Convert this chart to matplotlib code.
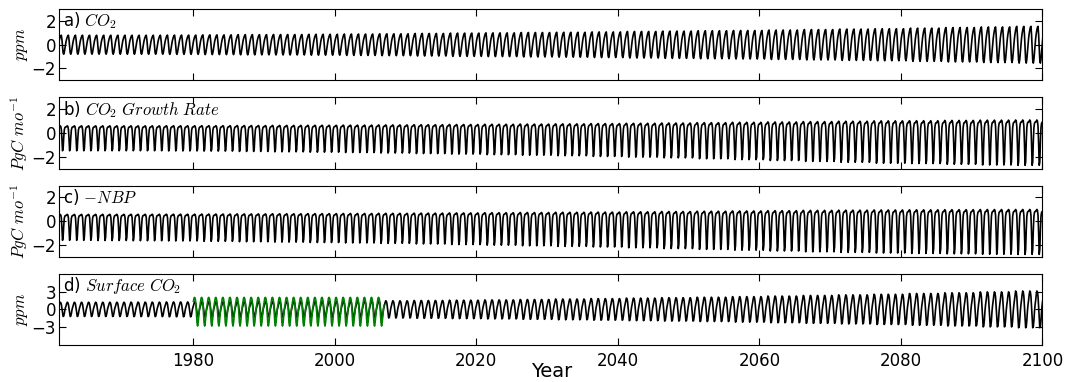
import numpy as np
import matplotlib
matplotlib.use("Agg")
import matplotlib.pyplot as plt

plt.rcParams["mathtext.fontset"] = "cm"

# monthly seasonal shapes (Jan..Dec, normalised)
co2_shape = [0.35, 0.6, 0.8, 0.95, 1.0, 0.55, -0.2, -0.85, -1.0, -0.8, -0.4, 0.05]
gr_shape = [0.5, 0.55, 0.6, 0.55, 0.3, -0.5, -1.5, -1.35, -0.4, 0.25, 0.45, 0.5]
nbp_shape = [0.5, 0.55, 0.6, 0.55, 0.3, -0.6, -1.7, -1.45, -0.45, 0.25, 0.45, 0.5]
surf_shape = [0.5, 0.8, 1.0, 0.95, 0.7, 0.1, -0.55, -1.0, -0.95, -0.6, -0.1, 0.25]
obs_shape = [0.6, 0.85, 0.9, 0.8, 0.5, -0.2, -1.0, -1.25, -1.0, -0.5, 0.0, 0.3]

# amplitude scale read from the envelopes, one value per 5 years (1961 ... 2096)
periods = list(range(1961, 2101, 5))
co2_amp = [0.8, 0.8, 0.8, 0.81, 0.83, 0.85, 0.86, 0.88, 0.9, 0.92, 0.95, 0.98,
           1.0, 1.03, 1.05, 1.08, 1.12, 1.15, 1.18, 1.2, 1.24, 1.28, 1.32, 1.35,
           1.4, 1.45, 1.5, 1.55]
gr_amp = [1.0, 1.0, 1.0, 1.01, 1.02, 1.04, 1.06, 1.08, 1.1, 1.13, 1.16, 1.19,
          1.22, 1.25, 1.28, 1.32, 1.36, 1.4, 1.45, 1.5, 1.55, 1.6, 1.65, 1.7,
          1.72, 1.76, 1.8, 1.82]
nbp_amp = [0.95, 0.96, 0.97, 0.98, 1.0, 1.02, 1.04, 1.06, 1.08, 1.1, 1.13, 1.16,
           1.19, 1.22, 1.25, 1.28, 1.32, 1.36, 1.4, 1.44, 1.48, 1.52, 1.55, 1.58,
           1.6, 1.62, 1.64, 1.65]
surf_amp = [1.2, 1.2, 1.22, 1.25, 1.28, 1.3, 1.33, 1.36, 1.4, 1.45, 1.5, 1.55,
            1.6, 1.67, 1.75, 1.82, 1.9, 1.97, 2.05, 2.15, 2.25, 2.35, 2.45, 2.55,
            2.68, 2.8, 2.95, 3.1]
obs_years = [1980, 2007]
obs_amp = 2.25

years = np.arange(1961, 2101)
t = (years[:, None] + (np.arange(12) + 0.5) / 12.0).ravel()
per_idx = np.repeat((years - periods[0]) // 5, 12)


def series(shape, amp):
    return np.tile(shape, len(years)) * np.asarray(amp)[per_idx]


co2 = series(co2_shape, co2_amp)
gr = series(gr_shape, gr_amp)
nbp = series(nbp_shape, nbp_amp)
surf = series(surf_shape, surf_amp)
obs_mask = (t >= obs_years[0]) & (t <= obs_years[1])
obs = np.tile(obs_shape, len(years))[obs_mask] * obs_amp

fig, axes = plt.subplots(4, 1, figsize=(10.67, 3.82), dpi=100, sharex=True)
fig.subplots_adjust(left=0.055, right=0.977, top=0.976, bottom=0.097, hspace=0.24)

panels = [
    (co2, r"a) $CO_2$", r"$ppm$", (-3, 3), [-2, 0, 2]),
    (gr, r"b) $CO_2\ Growth\ Rate$", r"$PgC\ mo^{-1}$", (-3, 3), [-2, 0, 2]),
    (nbp, r"c) $-NBP$", r"$PgC\ mo^{-1}$", (-3, 3), [-2, 0, 2]),
    (surf, r"d) $Surface\ CO_2$", r"$ppm$", (-6, 6), [-3, 0, 3]),
]

for ax, (y, title, ylab, ylim, yt) in zip(axes, panels):
    ax.plot(t, y, color="black", lw=1.2)
    ax.set_ylim(*ylim)
    ax.set_yticks(yt)
    ax.set_ylabel(ylab, fontsize=12, labelpad=1)
    ax.text(0.004, 0.98, title, transform=ax.transAxes, va="top", ha="left", fontsize=12)
    ax.tick_params(direction="in", top=True, right=True, labelsize=12, length=5, pad=2)
    ax.set_xlim(1961, 2100)

axes[3].plot(t[obs_mask], obs, color="green", lw=1.2)
axes[3].set_xticks([1980, 2000, 2020, 2040, 2060, 2080, 2100])
axes[3].tick_params(axis="x", pad=5)
fig.text(0.517, 0.003, "Year", ha="center", va="bottom", fontsize=14)

fig.savefig("out.png", dpi=100)
